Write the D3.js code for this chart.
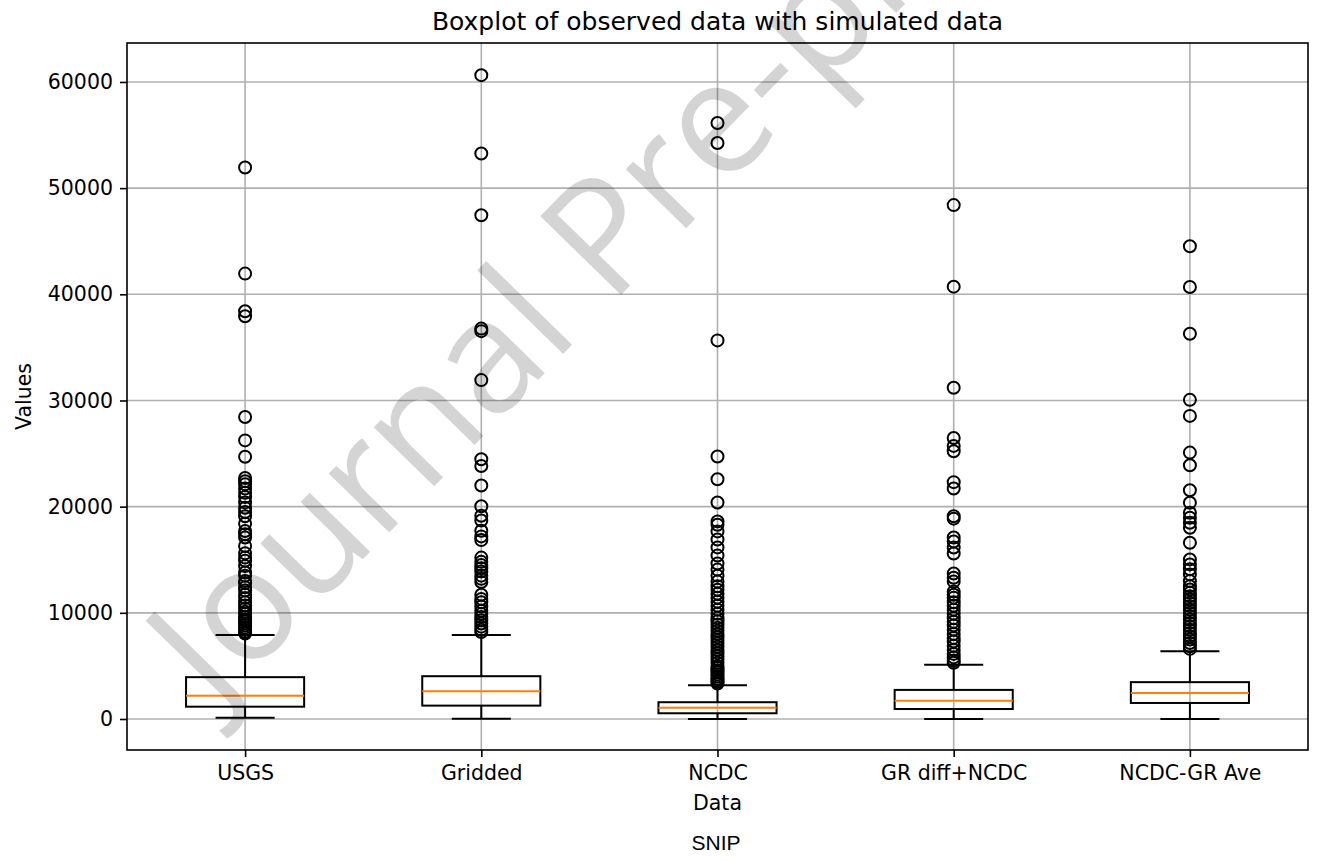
<!DOCTYPE html>
<html>
<head>
<meta charset="utf-8">
<script src="https://cdn.jsdelivr.net/npm/d3@7"></script>
<style>
  html, body { margin: 0; padding: 0; background: #fff; }
  svg { display: block; }
  text { font-family: "DejaVu Sans", sans-serif; fill: #000; }
</style>
</head>
<body>
<svg id="chart" width="1320" height="863"></svg>
<script>
// ---------------- data ----------------
const categories = ["USGS", "Gridded", "NCDC", "GR diff+NCDC", "NCDC-GR Ave"];
const whiskerLow  = [120, 20, 0, 0, 0];
const q1          = [1160, 1260, 540, 940, 1510];
const medians     = [2200, 2620, 1070, 1730, 2460];
const q3          = [3940, 4030, 1580, 2740, 3470];
const whiskerHigh = [7900, 7900, 3180, 5100, 6380];

const fliersUSGS = [51950, 41950, 38400, 37940, 28450, 26240, 24700, 22700, 22400, 22100, 21700,
  21300, 20900, 20400, 19900, 19500, 19100, 18400, 17700, 17400, 17100, 16300, 15600, 15200, 14900,
  14400, 13800, 13500, 13000, 12800, 12400, 12100, 11700, 11400, 11000, 10700, 10400, 10100, 9900,
  9600, 9400, 9200, 9000, 8800, 8600, 8400, 8200, 8050];
const fliersGridded = [60640, 53260, 47450, 36770, 36530, 31920, 24470, 23830, 21990, 20040, 19150,
  18700, 17730, 17200, 16850, 15200, 14800, 14500, 14200, 13900, 13500, 13200, 12900, 11700, 11300,
  11000, 10600, 10200, 9900, 9600, 9300, 9000, 8700, 8400, 8200];
const fliersNCDC = [56140, 54250, 35660, 24730, 22580, 20390, 18610, 18300, 17670, 16910, 16160,
  15400, 14640, 14070, 13500, 12940, 12500, 12180, 11800, 11430, 11050, 10670, 10300, 9910, 9500,
  9200, 8900, 8600, 8300, 8000, 7700, 7400, 7100, 6800, 6500, 6200, 5900, 5600, 5300, 5000, 4800,
  4600, 4400, 4200, 4000, 3800, 3650, 3500, 3350];
const fliersGRdiff = [48400, 40720, 31200, 26470, 25720, 25220, 22310, 21710, 19100, 18870, 17100,
  16720, 16150, 15590, 13700, 13300, 12940, 12000, 11700, 11430, 11000, 10670, 10300, 9910, 9500,
  9150, 8800, 8400, 8000, 7640, 7300, 6890, 6500, 6130, 5800, 5500, 5300];
const fliersNCDCGR = [44530, 40690, 36290, 30060, 28550, 25090, 23900, 21540, 20370, 19430, 18960,
  18490, 18020, 16600, 15030, 14560, 14100, 13620, 12990, 12510, 12200, 11880, 11560, 11260, 10950,
  10630, 10300, 10000, 9700, 9370, 9050, 8740, 8400, 8110, 7800, 7480, 7150, 6850, 6600];
const fliers = [fliersUSGS, fliersGridded, fliersNCDC, fliersGRdiff, fliersNCDCGR];

const yTicks = [0, 10000, 20000, 30000, 40000, 50000, 60000];
const yDomain = [-2920, 63670];

const titleText = "Boxplot of observed data with simulated data";
const xLabel = "Data";
const yLabel = "Values";
const footText = "SNIP";
const watermark = "Journal Pre-proof";

// ---------------- layout ----------------
const L = 127, R = 1308, T = 43, B = 750;
const svg = d3.select("#chart");

const x = d3.scalePoint().domain(categories).range([L, R]).padding(0.5);
const y = d3.scaleLinear().domain(yDomain).range([B, T]);
const step = x.step();
const boxW = step * 0.5, capW = step * 0.25;

const boxes = categories.map((c, i) => ({
  cat: c, lo: whiskerLow[i], q1: q1[i], med: medians[i], q3: q3[i], hi: whiskerHigh[i], fl: fliers[i]
}));

// grid
const grid = svg.append("g");
grid.selectAll("line.gy").data(yTicks).join("line")
  .attr("x1", L).attr("x2", R).attr("y1", d => y(d)).attr("y2", d => y(d))
  .attr("stroke", "#b0b0b0").attr("stroke-width", 1.6);
grid.selectAll("line.gx").data(categories).join("line")
  .attr("x1", d => x(d)).attr("x2", d => x(d)).attr("y1", T).attr("y2", B)
  .attr("stroke", "#b0b0b0").attr("stroke-width", 1.6);

// boxes
const g = svg.append("g");
const bg = g.selectAll("g.box").data(boxes).join("g");
bg.append("line").attr("x1", d => x(d.cat)).attr("x2", d => x(d.cat))
  .attr("y1", d => y(d.q3)).attr("y2", d => y(d.hi)).attr("stroke", "#000").attr("stroke-width", 2);
bg.append("line").attr("x1", d => x(d.cat)).attr("x2", d => x(d.cat))
  .attr("y1", d => y(d.q1)).attr("y2", d => y(d.lo)).attr("stroke", "#000").attr("stroke-width", 2);
bg.append("line").attr("x1", d => x(d.cat) - capW / 2).attr("x2", d => x(d.cat) + capW / 2)
  .attr("y1", d => y(d.hi)).attr("y2", d => y(d.hi)).attr("stroke", "#000").attr("stroke-width", 2);
bg.append("line").attr("x1", d => x(d.cat) - capW / 2).attr("x2", d => x(d.cat) + capW / 2)
  .attr("y1", d => y(d.lo)).attr("y2", d => y(d.lo)).attr("stroke", "#000").attr("stroke-width", 2);
bg.append("rect").attr("x", d => x(d.cat) - boxW / 2).attr("width", boxW)
  .attr("y", d => y(d.q3)).attr("height", d => y(d.q1) - y(d.q3))
  .attr("fill", "none").attr("stroke", "#000").attr("stroke-width", 2);
bg.append("line").attr("x1", d => x(d.cat) - boxW / 2).attr("x2", d => x(d.cat) + boxW / 2)
  .attr("y1", d => y(d.med)).attr("y2", d => y(d.med)).attr("stroke", "#ff7f0e").attr("stroke-width", 2);
bg.each(function(d) {
  d3.select(this).selectAll("circle").data(d.fl).join("circle")
    .attr("cx", x(d.cat)).attr("cy", v => y(v)).attr("r", 6)
    .attr("fill", "none").attr("stroke", "#000").attr("stroke-width", 2);
});

// frame
svg.append("rect").attr("x", L).attr("y", T).attr("width", R - L).attr("height", B - T)
  .attr("fill", "none").attr("stroke", "#000").attr("stroke-width", 1.6);

// axes
const ya = svg.append("g").attr("transform", `translate(${L},0)`)
  .call(d3.axisLeft(y).tickValues(yTicks).tickSize(7).tickPadding(7).tickFormat(d3.format("d")));
ya.select(".domain").remove();
ya.selectAll("line").attr("stroke", "#000").attr("stroke-width", 1.6);
ya.selectAll("text").attr("font-size", 20.5).attr("font-family", "DejaVu Sans").attr("fill", "#000");

const xa = svg.append("g").attr("transform", `translate(0,${B})`)
  .call(d3.axisBottom(x).tickSize(7).tickPadding(8));
xa.select(".domain").remove();
xa.selectAll("line").attr("stroke", "#000").attr("stroke-width", 1.6);
xa.selectAll("text").attr("font-size", 20.5).attr("font-family", "DejaVu Sans").attr("fill", "#000");

// labels
svg.append("text").attr("x", (L + R) / 2).attr("y", 30).attr("text-anchor", "middle")
  .attr("font-size", 25).text(titleText);
svg.append("text").attr("x", (L + R) / 2).attr("y", 810).attr("text-anchor", "middle")
  .attr("font-size", 20.5).text(xLabel);
svg.append("text").attr("transform", `translate(31,${(T + B) / 2}) rotate(-90)`)
  .attr("text-anchor", "middle").attr("font-size", 20.5).text(yLabel);
svg.append("text").attr("x", 716).attr("y", 850).attr("text-anchor", "middle")
  .attr("font-size", 21).style("font-family", "'Liberation Sans', sans-serif").text(footText);

// watermark
svg.append("text").attr("transform", "translate(216,710) rotate(-45.7)")
  .attr("font-size", 158).style("font-family", "'Open Sans', 'Liberation Sans', sans-serif")
  .style("fill", "#000").attr("fill-opacity", 0.17).text(watermark);
</script>
</body>
</html>
